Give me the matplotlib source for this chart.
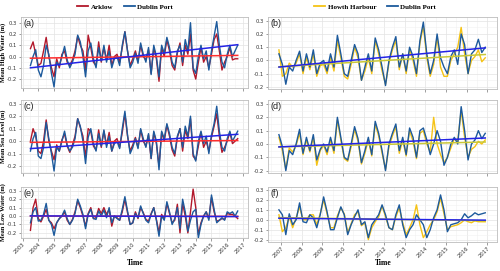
import numpy as np
import matplotlib.pyplot as plt
from matplotlib.ticker import MultipleLocator
from matplotlib.lines import Line2D

# ---- data, two-monthly samples ----
t_left = 2003.5 + np.arange(80) / 6.0
t_right = 2006.9 + np.arange(61) / 6.0

a_dub = [-0.08, 0.00, 0.06, -0.12, -0.18, -0.08, 0.10, 0.02, -0.15, -0.27,
         -0.05, -0.08, 0.00, 0.09, -0.03, -0.10, -0.05, 0.02, 0.19, 0.13,
         0.00, -0.18, 0.05, 0.12, -0.02, -0.10, 0.08, -0.04, 0.10, -0.05,
         0.05, -0.10, -0.02, 0.00, -0.08, 0.10, 0.22, 0.05, -0.10, -0.05,
         0.03, -0.06, 0.12, 0.02, -0.05, 0.08, -0.16, 0.10, 0.00, -0.18,
         0.10, 0.03, 0.17, 0.08, -0.05, -0.10, 0.05, 0.10, -0.05, 0.15,
         0.05, 0.30, -0.10, -0.15, 0.00, 0.10, -0.02, 0.05, -0.12, 0.05,
         0.18, 0.31, 0.10, -0.05, -0.10, 0.02, 0.10, 0.00, 0.05, 0.10]
a_ark = [0.07, 0.13, 0.02, -0.08, -0.06, 0.05, 0.17, 0.00, -0.10, -0.18,
         -0.02, -0.10, 0.02, 0.05, -0.05, -0.08, -0.03, 0.05, 0.18, 0.10,
         0.05, -0.12, 0.19, 0.08, -0.05, -0.08, 0.13, -0.05, 0.08, -0.03,
         0.10, -0.08, 0.00, 0.02, -0.05, 0.08, 0.22, 0.05, -0.08, -0.02,
         0.05, -0.04, 0.10, 0.00, -0.03, 0.06, -0.15, 0.08, -0.02, -0.22,
         0.08, 0.00, 0.15, 0.05, -0.08, -0.12, 0.03, 0.12, -0.08, 0.10,
         0.02, 0.20, -0.12, -0.20, -0.05, 0.08, -0.05, 0.00, -0.10, 0.02,
         0.15, 0.20, 0.05, -0.12, -0.05, 0.00, 0.08, -0.03, -0.02, -0.02]

c_dub = [-0.08, 0.02, 0.07, -0.12, -0.14, -0.05, 0.15, 0.02, -0.10, -0.24,
         -0.05, -0.08, 0.00, 0.08, -0.03, -0.08, -0.05, 0.02, 0.18, 0.12,
         0.00, -0.18, 0.03, 0.10, -0.02, -0.08, 0.06, -0.04, 0.09, -0.05,
         0.04, -0.08, -0.02, 0.00, -0.06, 0.10, 0.24, 0.05, -0.10, -0.05,
         0.02, -0.06, 0.10, 0.02, -0.05, 0.06, -0.14, 0.08, 0.00, -0.23,
         0.08, 0.02, 0.14, 0.06, -0.05, -0.10, 0.04, 0.10, -0.05, 0.12,
         0.04, 0.20, -0.10, -0.16, 0.00, 0.08, -0.02, 0.04, -0.10, 0.05,
         0.14, 0.28, 0.08, -0.05, -0.08, 0.02, 0.08, 0.00, 0.04, 0.08]
c_ark = [0.00, 0.10, 0.04, -0.08, -0.10, 0.00, 0.17, 0.00, -0.08, -0.15,
         -0.03, -0.08, 0.01, 0.06, -0.04, -0.09, -0.03, 0.04, 0.18, 0.11,
         0.04, -0.13, 0.10, 0.08, -0.04, -0.07, 0.09, -0.05, 0.08, -0.03,
         0.07, -0.08, 0.00, 0.02, -0.05, 0.07, 0.22, 0.04, -0.08, -0.03,
         0.03, -0.05, 0.09, 0.00, -0.04, 0.05, -0.14, 0.07, -0.02, -0.20,
         0.07, 0.00, 0.13, 0.04, -0.07, -0.12, 0.03, 0.10, -0.08, 0.09,
         0.02, 0.18, -0.12, -0.15, -0.04, 0.07, -0.05, 0.00, -0.08, 0.03,
         0.12, 0.22, 0.04, -0.09, -0.05, 0.00, 0.07, -0.02, 0.00, 0.02]

e_dub = [-0.08, 0.05, 0.10, -0.06, -0.05, 0.02, 0.15, -0.05, -0.10, -0.23,
         -0.08, -0.03, 0.00, 0.07, -0.03, -0.10, -0.05, 0.03, 0.20, 0.12,
         0.02, -0.15, 0.02, 0.08, -0.03, -0.04, 0.06, 0.00, 0.07, -0.02,
         0.10, -0.08, 0.00, -0.03, -0.05, 0.08, 0.23, 0.06, -0.10, -0.08,
         0.03, -0.02, 0.12, 0.03, -0.05, -0.08, 0.02, 0.10, -0.05, -0.24,
         0.00, -0.05, 0.17, 0.05, -0.10, -0.03, 0.10, -0.15, 0.20, 0.05,
         -0.18, -0.05, 0.05, 0.08, -0.26, -0.10, 0.00, 0.05, -0.05, 0.25,
         0.08, -0.08, -0.05, -0.02, -0.05, 0.05, 0.03, 0.05, 0.00, 0.06]
e_ark = [-0.17, 0.10, 0.20, -0.03, -0.07, 0.00, 0.08, -0.05, -0.08, -0.15,
         -0.08, -0.03, 0.00, 0.05, -0.05, -0.10, -0.04, 0.05, 0.18, 0.10,
         0.00, -0.12, 0.03, 0.10, -0.03, -0.02, 0.09, 0.03, 0.10, 0.02,
         0.08, -0.12, 0.00, -0.02, -0.05, 0.05, 0.20, 0.04, -0.10, -0.08,
         0.05, -0.03, 0.10, 0.04, -0.04, -0.06, 0.03, 0.10, -0.04, -0.20,
         0.02, -0.04, 0.15, 0.03, -0.08, -0.05, 0.14, -0.20, 0.15, 0.00,
         -0.20, 0.05, 0.32, 0.10, -0.22, -0.08, 0.00, 0.05, -0.03, 0.22,
         0.05, -0.06, -0.05, -0.03, -0.04, 0.03, 0.02, 0.02, 0.00, -0.03]

b_dub = [0.05, -0.03, -0.18, -0.05, -0.08, 0.00, 0.07, -0.08, 0.05, -0.05,
         0.08, -0.10, -0.02, 0.00, -0.08, 0.05, -0.05, 0.19, 0.05, -0.10,
         -0.12, 0.00, 0.12, 0.05, -0.15, -0.05, 0.05, -0.08, 0.17, 0.08,
         -0.05, -0.19, 0.00, 0.10, 0.18, -0.05, 0.05, -0.08, 0.10, 0.03,
         -0.10, 0.15, 0.29, 0.05, -0.10, 0.00, 0.20, 0.02, -0.05, -0.10,
         0.03, 0.08, -0.03, 0.20, 0.12, -0.10, 0.05, 0.08, 0.16, 0.06, 0.10]
b_how = [0.08, -0.12, -0.10, -0.02, -0.05, -0.02, 0.05, -0.10, 0.02, -0.07,
         0.05, -0.12, -0.04, -0.03, -0.10, 0.02, -0.08, 0.15, 0.02, -0.12,
         -0.14, -0.03, 0.10, 0.02, -0.15, -0.08, 0.02, -0.10, 0.15, 0.05,
         -0.08, -0.18, -0.02, 0.08, 0.15, -0.07, 0.05, -0.10, 0.08, 0.00,
         -0.12, 0.13, 0.26, 0.02, -0.12, -0.03, 0.18, -0.05, -0.12, -0.12,
         0.00, 0.05, 0.10, 0.25, 0.05, -0.10, 0.00, 0.03, 0.08, -0.01, 0.02]

d_dub = [0.07, -0.02, -0.20, -0.05, -0.08, 0.00, 0.11, -0.07, 0.05, -0.05,
         0.07, -0.12, -0.04, 0.00, -0.06, 0.05, -0.05, 0.20, 0.05, -0.10,
         -0.12, 0.00, 0.13, 0.04, -0.14, -0.05, 0.05, -0.08, 0.17, 0.08,
         -0.05, -0.20, 0.00, 0.08, 0.15, -0.05, 0.05, -0.08, 0.12, 0.05,
         -0.10, 0.10, 0.12, 0.03, -0.08, 0.00, 0.10, 0.02, -0.16, -0.10,
         0.00, 0.05, 0.00, 0.28, 0.10, -0.12, 0.00, 0.03, 0.10, 0.04, 0.08]
d_how = [0.05, -0.05, -0.19, -0.03, -0.06, -0.01, 0.08, -0.08, 0.03, -0.06,
         0.05, -0.16, -0.05, -0.01, -0.08, 0.03, -0.07, 0.18, 0.03, -0.11,
         -0.13, -0.02, 0.11, 0.02, -0.15, -0.07, 0.03, -0.09, 0.15, 0.06,
         -0.07, -0.19, -0.02, 0.06, 0.13, -0.07, 0.03, -0.09, 0.10, 0.02,
         -0.11, 0.08, 0.10, 0.00, -0.06, 0.20, 0.00, -0.08, -0.14, -0.10,
         -0.03, 0.04, 0.02, 0.25, 0.05, -0.10, -0.04, -0.02, 0.02, 0.00, 0.03]

f_dub = [0.10, 0.05, -0.15, 0.06, -0.05, 0.00, 0.17, -0.02, -0.03, 0.05,
         0.02, -0.08, 0.05, 0.23, 0.08, -0.10, -0.10, 0.02, 0.13, 0.05,
         -0.15, -0.05, 0.03, 0.10, -0.05, -0.02, -0.18, -0.05, 0.00, 0.05,
         0.15, 0.05, -0.08, -0.10, 0.05, 0.15, -0.05, -0.18, -0.10, -0.05,
         0.05, 0.00, -0.05, -0.18, -0.10, 0.02, 0.10, 0.25, 0.10, -0.12,
         -0.05, -0.04, -0.03, 0.00, 0.06, 0.02, 0.04, 0.07, 0.05, 0.06, 0.07]
f_how = [0.05, -0.12, -0.08, 0.03, -0.08, 0.02, 0.13, 0.00, 0.00, 0.05,
         0.05, -0.05, 0.06, 0.20, 0.06, -0.08, -0.08, 0.04, 0.12, 0.06,
         -0.13, -0.04, 0.05, 0.08, -0.06, -0.03, -0.20, -0.08, -0.02, 0.03,
         0.14, 0.03, -0.08, -0.10, 0.03, 0.12, -0.03, -0.15, -0.08, 0.00,
         0.15, -0.05, -0.18, -0.12, -0.05, 0.00, 0.08, 0.22, 0.06, -0.10,
         -0.07, -0.06, -0.05, -0.03, 0.00, -0.02, -0.03, -0.01, -0.02, -0.02, -0.02]

# trend lines: (start value, end value)
trend_a = {'Arklow': (-0.015, 0.010), 'Dublin Port': (-0.100, 0.105)}
trend_c = {'Arklow': (-0.010, 0.005), 'Dublin Port': (-0.060, 0.055)}
trend_e = {'Arklow': (0.000, -0.004), 'Dublin Port': (0.002, -0.006)}
trend_b = {'Howth Harbour': (-0.048, 0.045), 'Dublin Port': (-0.050, 0.095)}
trend_d = {'Howth Harbour': (-0.022, 0.015), 'Dublin Port': (-0.022, 0.045)}
trend_f = {'Howth Harbour': (0.022, -0.010), 'Dublin Port': (0.015, -0.004)}

col_ark = '#b2182b'
col_dub = '#1d5a9c'
col_how = '#f5c316'
tr_ark = '#ff2d2d'
tr_dub = '#2323e6'
tr_how = '#c9c838'

serif = ['Liberation Serif', 'DejaVu Serif']
sans = ['Liberation Sans', 'DejaVu Sans']

fig = plt.figure(figsize=(5.0, 2.71), dpi=100)


def panel(rect, t, s1, s2, c1, c2, tc1, tc2, tr, keys, xlim, ylim, tag, xlab):
    ax = fig.add_axes(rect)
    ax.plot(t, s1, color=c1, lw=1.0)
    ax.plot(t, s2, color=c2, lw=1.0)
    ax.plot([t[0], t[-1]], tr[keys[0]], color=tc1, lw=1.1)
    ax.plot([t[0], t[-1]], tr[keys[1]], color=tc2, lw=1.1)

    ax.set_xlim(xlim)
    ax.set_ylim(ylim)
    ax.xaxis.set_major_locator(MultipleLocator(1))
    ax.xaxis.set_minor_locator(MultipleLocator(0.5))
    ax.yaxis.set_major_locator(MultipleLocator(0.1))
    ax.yaxis.set_minor_locator(MultipleLocator(0.05))
    ax.grid(which='major', color='#e3e3e3', lw=0.5)
    ax.grid(which='minor', color='#f1f1f1', lw=0.4)
    ax.set_axisbelow(True)
    for s in ax.spines.values():
        s.set_color('#bdbdbd')
        s.set_linewidth(0.6)
    ax.tick_params(which='major', length=1.8, width=0.4, color='#555555',
                   labelsize=3.8, pad=1, labelcolor='#333333')
    ax.tick_params(which='minor', length=0)
    ax.yaxis.set_major_formatter(plt.FuncFormatter(lambda v, p: f'{v:.1f}'))
    if xlab:
        ax.xaxis.set_major_formatter(plt.FuncFormatter(lambda v, p: f'{int(round(v))}'))
        for lab in ax.get_xticklabels():
            lab.set_rotation(45)
            lab.set_ha('right')
            lab.set_rotation_mode('anchor')
    else:
        ax.tick_params(axis='x', labelbottom=False)
    ax.text(0.012, 0.97, tag, transform=ax.transAxes, ha='left', va='top',
            fontsize=6.5, family=sans, color='#222222')
    return ax


xl = (2002.9, 2017.32)
xr = (2006.37, 2017.47)

panel([0.042, 0.675, 0.454, 0.262], t_left, a_ark, a_dub, col_ark, col_dub,
      tr_ark, tr_dub, trend_a, ['Arklow', 'Dublin Port'], xl, (-0.28, 0.35), '(a)', False)
panel([0.042, 0.362, 0.454, 0.269], t_left, c_ark, c_dub, col_ark, col_dub,
      tr_ark, tr_dub, trend_c, ['Arklow', 'Dublin Port'], xl, (-0.255, 0.33), '(c)', False)
panel([0.042, 0.122, 0.454, 0.188], t_left, e_ark, e_dub, col_ark, col_dub,
      tr_ark, tr_dub, trend_e, ['Arklow', 'Dublin Port'], xl, (-0.26, 0.345), '(e)', True)

panel([0.536, 0.672, 0.458, 0.266], t_right, b_how, b_dub, col_how, col_dub,
      tr_how, tr_dub, trend_b, ['Howth Harbour', 'Dublin Port'], xr, (-0.215, 0.33), '(b)', False)
panel([0.536, 0.362, 0.458, 0.269], t_right, d_how, d_dub, col_how, col_dub,
      tr_how, tr_dub, trend_d, ['Howth Harbour', 'Dublin Port'], xr, (-0.217, 0.33), '(d)', False)
panel([0.536, 0.107, 0.458, 0.203], t_right, f_how, f_dub, col_how, col_dub,
      tr_how, tr_dub, trend_f, ['Howth Harbour', 'Dublin Port'], xr, (-0.224, 0.33), '(f)', True)

# y labels
for y, txt in [(0.806, 'Mean High Water (m)'), (0.497, 'Mean Sea Level (m)'),
               (0.216, 'Mean Low Water (m)')]:
    fig.text(0.007, y, txt, rotation=90, ha='center', va='center',
             fontsize=4.5, fontweight='bold', family=serif)

for x in (0.27, 0.766):
    fig.text(x, 0.028, 'Time', ha='center', va='center', fontsize=5.5,
             fontweight='bold', family=serif)

# legends
h_left = [Line2D([], [], color=col_ark, lw=1.3), Line2D([], [], color=col_dub, lw=1.3)]
h_right = [Line2D([], [], color=col_how, lw=1.3), Line2D([], [], color=col_dub, lw=1.3)]
for hx, hnd, labs in [(0.25, h_left, ['Arklow', 'Dublin Port']),
                      (0.75, h_right, ['Howth Harbour', 'Dublin Port'])]:
    fig.legend(hnd, labs, loc='center', bbox_to_anchor=(hx, 0.975), ncol=2,
               frameon=False, handlelength=1.6, columnspacing=1.5, handletextpad=0.4,
               prop={'family': serif, 'weight': 'bold', 'size': 5})

fig.savefig('out.png', dpi=100)
